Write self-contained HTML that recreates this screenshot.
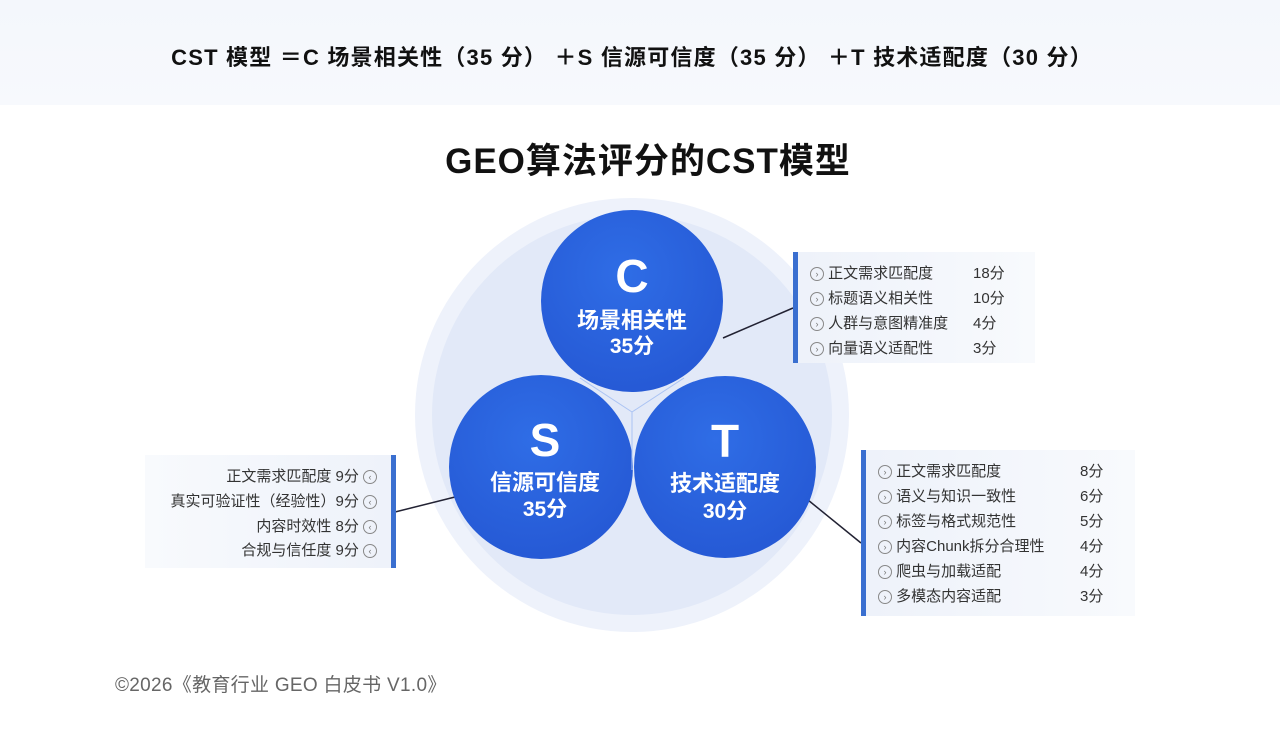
<!DOCTYPE html>
<html><head><meta charset="utf-8"><style>
body{margin:0;width:1280px;height:736px;background:#fff;position:relative;overflow:hidden;font-family:"Liberation Sans","Noto Sans CJK SC",sans-serif;}
.hdr{position:absolute;left:0;top:0;width:1280px;height:105px;background:linear-gradient(#f4f7fc,#f7f9fd);}
.hdr div{position:absolute;top:40px;left:-8px;width:100%;text-align:center;font-size:22px;font-weight:bold;color:#111;letter-spacing:1.2px;}
.title{position:absolute;top:133px;left:8px;width:1280px;text-align:center;font-size:35px;font-weight:bold;color:#111;letter-spacing:1px;}
.box{position:absolute;background:linear-gradient(90deg,#eef2fa,#f8fafd);font-size:15px;color:#333;}
.row{position:absolute;white-space:nowrap;}
.ic{display:inline-block;width:12px;height:12px;border:1px solid #888;border-radius:50%;font-size:9px;line-height:12px;text-align:center;color:#777;vertical-align:1px;}
.foot{position:absolute;left:115px;top:670px;font-size:19px;color:#666;letter-spacing:0.3px;}
</style></head><body>
<div class="hdr"><div>CST 模型 ＝C 场景相关性（35 分） ＋S 信源可信度（35 分） ＋T 技术适配度（30 分）</div></div>
<div class="title">GEO算法评分的CST模型</div>
<svg width="1280" height="736" style="position:absolute;left:0;top:0">
<defs>
<radialGradient id="g" cx="0.45" cy="0.35" r="0.7"><stop offset="0" stop-color="#2f6de6"/><stop offset="1" stop-color="#2558d4"/></radialGradient>
</defs>
<circle cx="632" cy="415" r="217" fill="#eef2fb"/>
<circle cx="632" cy="415" r="200" fill="#e2e9f8"/>
<line x1="723" y1="338" x2="793" y2="308" stroke="#223" stroke-width="1.5"/>
<line x1="455" y1="497" x2="395" y2="512" stroke="#223" stroke-width="1.5"/>
<line x1="808" y1="500" x2="861" y2="543" stroke="#223" stroke-width="1.5"/>
<circle cx="632" cy="301" r="91" fill="url(#g)"/>
<circle cx="541" cy="467" r="92" fill="url(#g)"/>
<circle cx="725" cy="467" r="91" fill="url(#g)"/>
<line x1="632" y1="412" x2="580" y2="378" stroke="#aac3f3" stroke-width="1"/>
<line x1="632" y1="412" x2="684" y2="378" stroke="#aac3f3" stroke-width="1"/>
<line x1="632" y1="412" x2="632" y2="470" stroke="#aac3f3" stroke-width="1"/>
<g fill="#fff" font-weight="bold" text-anchor="middle" font-family="Liberation Sans,Noto Sans CJK SC,sans-serif">
<text x="632" y="292" font-size="46">C</text>
<text x="632" y="328" font-size="22">场景相关性</text>
<text x="632" y="353" font-size="21">35分</text>
<text x="545" y="456" font-size="46">S</text>
<text x="545" y="490" font-size="22">信源可信度</text>
<text x="545" y="516" font-size="21">35分</text>
<text x="725" y="457" font-size="46">T</text>
<text x="725" y="491" font-size="22">技术适配度</text>
<text x="725" y="518" font-size="21">30分</text>
</g>
</svg>
<div class="box" style="left:793px;top:252px;width:237px;height:111px;border-left:5px solid #3a6fd0;">
<div class="row" style="left:12px;top:10px"><span class="ic">›</span> 正文需求匹配度</div><div class="row" style="left:175px;top:10px">18分</div>
<div class="row" style="left:12px;top:35px"><span class="ic">›</span> 标题语义相关性</div><div class="row" style="left:175px;top:35px">10分</div>
<div class="row" style="left:12px;top:60px"><span class="ic">›</span> 人群与意图精准度</div><div class="row" style="left:175px;top:60px">4分</div>
<div class="row" style="left:12px;top:85px"><span class="ic">›</span> 向量语义适配性</div><div class="row" style="left:175px;top:85px">3分</div>
</div>
<div class="box" style="left:861px;top:450px;width:269px;height:166px;border-left:5px solid #3a6fd0;">
<div class="row" style="left:12px;top:10px"><span class="ic">›</span> 正文需求匹配度</div><div class="row" style="left:214px;top:10px">8分</div>
<div class="row" style="left:12px;top:35px"><span class="ic">›</span> 语义与知识一致性</div><div class="row" style="left:214px;top:35px">6分</div>
<div class="row" style="left:12px;top:60px"><span class="ic">›</span> 标签与格式规范性</div><div class="row" style="left:214px;top:60px">5分</div>
<div class="row" style="left:12px;top:85px"><span class="ic">›</span> 内容Chunk拆分合理性</div><div class="row" style="left:214px;top:85px">4分</div>
<div class="row" style="left:12px;top:110px"><span class="ic">›</span> 爬虫与加载适配</div><div class="row" style="left:214px;top:110px">4分</div>
<div class="row" style="left:12px;top:135px"><span class="ic">›</span> 多模态内容适配</div><div class="row" style="left:214px;top:135px">3分</div>
</div>
<div class="box" style="left:145px;top:455px;width:246px;height:113px;border-right:5px solid #3a6fd0;background:linear-gradient(90deg,#f8fafd,#eef2fa);">
<div class="row" style="right:14px;top:10px">正文需求匹配度 9分 <span class="ic">‹</span></div>
<div class="row" style="right:14px;top:35px">真实可验证性（经验性）9分 <span class="ic">‹</span></div>
<div class="row" style="right:14px;top:60px">内容时效性 8分 <span class="ic">‹</span></div>
<div class="row" style="right:14px;top:84px">合规与信任度 9分 <span class="ic">‹</span></div>
</div>
<div class="foot">©2026《教育行业 GEO 白皮书 V1.0》</div>
</body></html>
